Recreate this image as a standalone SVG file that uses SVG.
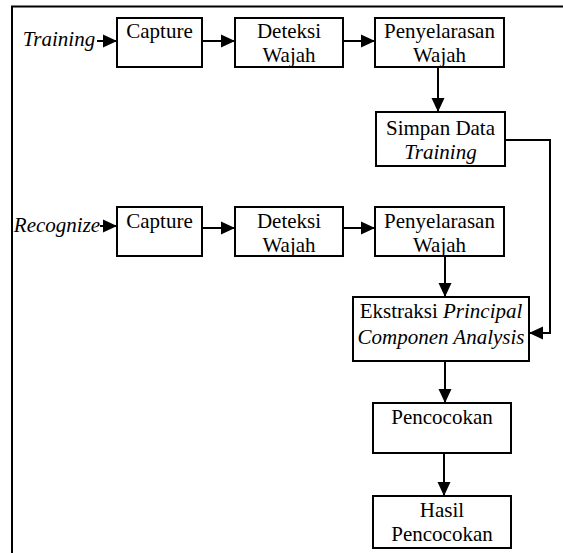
<svg xmlns="http://www.w3.org/2000/svg" width="563" height="553" viewBox="0 0 563 553">
<defs>
<style>
.box{fill:#fff;stroke:#000;stroke-width:2}
.t{font-family:"Liberation Serif","Times New Roman",serif;font-size:21px;fill:#000;text-anchor:middle}
.i{font-style:italic}
.c{fill:none;stroke:#000;stroke-width:2}
.frame{fill:none;stroke:#000;stroke-width:2}
</style>
<marker id="ah" markerUnits="userSpaceOnUse" markerWidth="15" markerHeight="14" refX="14" refY="7" orient="auto">
<path d="M0,0.5 L14,7 L0,13.5 Z" fill="#000"/>
</marker>
</defs>
<rect width="563" height="553" fill="#fff"/>
<path class="frame" d="M12,553 V6.5 H563"/>

<g id="connectors">
<line class="c" x1="97" y1="41" x2="117" y2="41" marker-end="url(#ah)"/>
<line class="c" x1="202" y1="41" x2="235" y2="41" marker-end="url(#ah)"/>
<line class="c" x1="343" y1="41" x2="375" y2="41" marker-end="url(#ah)"/>
<line class="c" x1="438" y1="67" x2="438" y2="112" marker-end="url(#ah)"/>
<polyline class="c" points="505,140 550,140 550,333 529,333" marker-end="url(#ah)"/>
<line class="c" x1="100" y1="226" x2="117" y2="226" marker-end="url(#ah)"/>
<line class="c" x1="202" y1="228" x2="235" y2="228" marker-end="url(#ah)"/>
<line class="c" x1="343" y1="228" x2="375" y2="228" marker-end="url(#ah)"/>
<line class="c" x1="445" y1="256" x2="445" y2="297" marker-end="url(#ah)"/>
<line class="c" x1="445" y1="361" x2="445" y2="403" marker-end="url(#ah)"/>
<line class="c" x1="444" y1="453" x2="444" y2="496" marker-end="url(#ah)"/>
</g>

<g id="label-training">
<text class="t i" x="59" y="46">Training</text>
</g>
<g id="capture1">
<rect class="box" x="117" y="18" width="85" height="49"/>
<text class="t" x="159.5" y="38">Capture</text>
</g>
<g id="deteksi1">
<rect class="box" x="235" y="18" width="108" height="49"/>
<text class="t" x="289" y="38">Deteksi</text>
<text class="t" x="289" y="62">Wajah</text>
</g>
<g id="penyelarasan1">
<rect class="box" x="375" y="18" width="129" height="49"/>
<text class="t" x="439.5" y="38">Penyelarasan</text>
<text class="t" x="439.5" y="62">Wajah</text>
</g>
<g id="simpan">
<rect class="box" x="376" y="112" width="129" height="54"/>
<text class="t" x="440.5" y="135">Simpan Data</text>
<text class="t i" x="440.5" y="159">Training</text>
</g>

<g id="label-recognize">
<text class="t i" x="57" y="232">Recognize</text>
</g>
<g id="capture2">
<rect class="box" x="117" y="207" width="85" height="49"/>
<text class="t" x="159.5" y="228">Capture</text>
</g>
<g id="deteksi2">
<rect class="box" x="235" y="207" width="108" height="49"/>
<text class="t" x="289" y="228">Deteksi</text>
<text class="t" x="289" y="252">Wajah</text>
</g>
<g id="penyelarasan2">
<rect class="box" x="375" y="207" width="129" height="49"/>
<text class="t" x="439.5" y="228">Penyelarasan</text>
<text class="t" x="439.5" y="252">Wajah</text>
</g>
<g id="ekstraksi">
<rect class="box" x="353" y="297" width="176" height="64"/>
<text class="t" x="441" y="318">Ekstraksi <tspan class="i">Principal</tspan></text>
<text class="t i" x="441" y="344">Componen Analysis</text>
</g>
<g id="pencocokan">
<rect class="box" x="373" y="403" width="138" height="50"/>
<text class="t" x="442" y="424">Pencocokan</text>
</g>
<g id="hasil">
<rect class="box" x="373" y="496" width="138" height="52"/>
<text class="t" x="442" y="517">Hasil</text>
<text class="t" x="442" y="541">Pencocokan</text>
</g>
</svg>
